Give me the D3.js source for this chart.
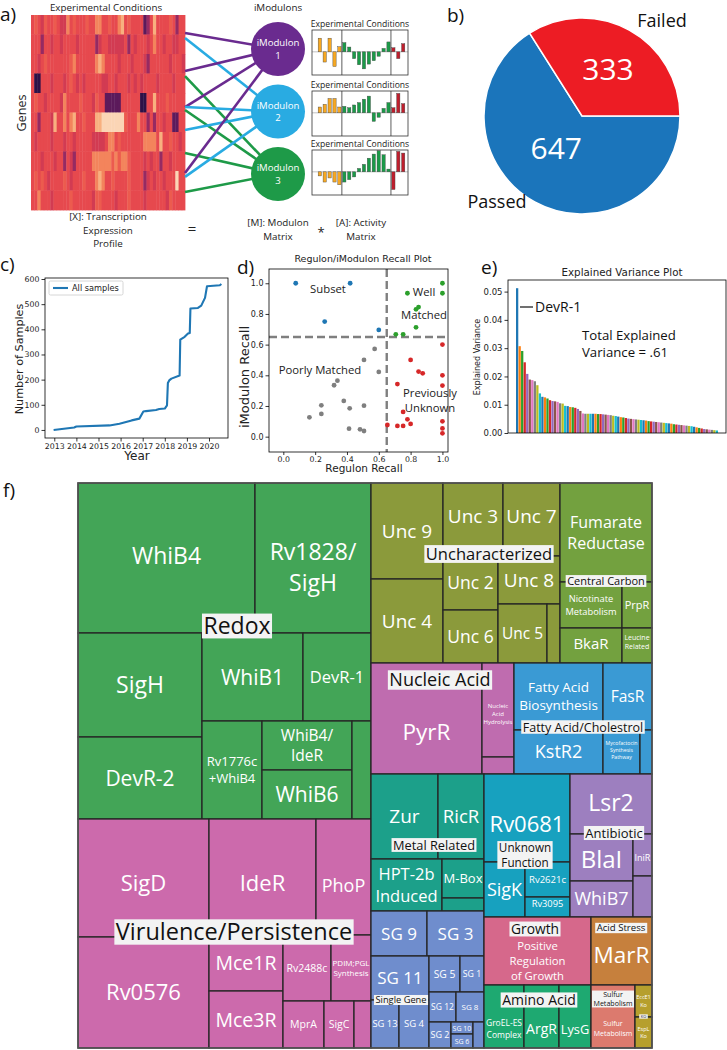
<!DOCTYPE html>
<html>
<head>
<meta charset="utf-8">
<script src="https://cdn.jsdelivr.net/npm/d3@7"></script>
<style>
  body { margin: 0; background: #fff; }
  svg { display: block; }
</style>
</head>
<body>
<svg id="fig" width="727" height="1050"></svg>
<script>
// ---------------- data ----------------

// a) expression profile: one string per gene block, one digit per condition (0 = low ... 8 = high)
var heatRows = [
  ["45435445","43364544","45446644","54467454","44412474","44454244"].join(""),
  ["44424434","43444434","44442344","33333424","34443464","43443344"].join(""),
  ["44345444","44445644","44446764","44434443","44432444","44434443"].join(""),
  ["40044434","44345434","34444433","44344434","34344443","44443444"].join(""),
  ["45443444","43644445","44435441","11114444","44004474","44544444"].join(""),
  ["44244437","44646744","54447788","88888544","46442424","43441144"].join(""),
  ["43444434","44344344","44433334","66454444","44466664","74454434"].join(""),
  ["44434443","44243244","44466666","65656654","44434344","24434444"].join(""),
  ["45454344","44543444","54446764","45444454","44423434","43444844"].join(""),
  ["44644434","44445444","44435544","44344454","44434444","44354444"].join("")
];
var moduleNames = ["1", "2", "3"];
// [gene position (in gene blocks), iModulon index]
var geneLinks = [[0.92,0],[1.18,1],[2.87,0],[3.13,2],[4.72,0],[4.72,1],[4.87,2],
                 [5.9,1],[7.08,2],[8.1,0],[8.3,1],[9.08,2]];
var conditionGroup = [0,0,0,0,0, 1,1,1,1,1,1,1,1,1,1, 2,2,2];
var activity = [
  [4, -3, 4, -4.3, 1.5,   2.7, 1.4, -2, -3.8, -5, -3.6, -2.6, -1.3, 1, 2.9,   1.2, -2, 2.4],
  [1.7, 2.5, 4.2, 4.2, 1.7,   1.9, 1.5, 2.3, 3, 4, 4.9, -2.5, -1.3, 1.3, 3,   1.5, 5.7, 2.7],
  [-1.2, -3, -1.8, -3, -3.8,   -3, -2.3, -1.5, 1, 2.2, 4, 5.2, 6.2, 5, 0.8,   -5.2, 6, 5.5]
];

// b) QC
var pieLabels = ["Passed", "Failed"];
var pieCounts = [647, 333];

// c) samples over time
var sampleYears = [2012.97, 2013.9, 2014.0, 2015.5, 2015.95, 2016.5, 2016.85, 2017.03, 2017.15, 2017.6,
                   2017.75, 2018.0, 2018.1, 2018.14, 2018.2, 2018.3, 2018.67, 2018.7, 2018.9, 2019.05,
                   2019.13, 2019.16, 2019.5, 2019.65, 2019.78, 2019.82, 2019.91, 2020.49, 2020.56];
var sampleCounts = [0, 10, 14, 18, 25, 38, 45, 73, 75, 79,
                    83, 85, 98, 187, 197, 204, 216, 359, 370, 383,
                    385, 483, 485, 494, 518, 525, 571, 575, 580];
var yearTicks = [2013, 2014, 2015, 2016, 2017, 2018, 2019, 2020];
var sampleTicks = [0, 100, 200, 300, 400, 500, 600];

// d) regulon / iModulon recall  [regulon recall, iModulon recall]
var subsetPts   = [[0.078,1.0],[0.42,1.0],[0.26,0.75],[0.60,0.696]];
var wellPts     = [[1.0,1.0],[0.78,0.935],[1.0,0.935],[0.834,0.83],[0.85,0.845],[0.834,0.713],[0.707,0.667],[0.753,0.667]];
var unknownPts  = [[1.0,0.6],[0.80,0.5],[0.85,0.424],[0.876,0.413],[1.0,0.4],[1.0,0.333],[0.717,0.343],[0.753,0.161],
                   [0.78,0.113],[0.717,0.07],[0.753,0.07],[0.80,0.083],[1.0,0.1],[1.0,0.054],[1.0,0.022],[0.654,0.076]];
var poorPts     = [[0.574,0.572],[0.507,0.5],[0.6,0.422],[0.34,0.365],[0.319,0.335],[0.38,0.233],[0.239,0.204],
                   [0.417,0.185],[0.507,0.202],[0.239,0.148],[0.164,0.126],[0.413,0.052],[0.482,0.048],[0.507,0.037]];
var recallTicks = [0, 0.2, 0.4, 0.6, 0.8, 1.0];
var recallCut = 0.65;

// e) explained variance per iModulon
var explainedVar = [0.0512,0.0307,0.029,0.025,0.0209,0.0189,0.0187,0.0183,0.0169,0.014,
  0.0128,0.0126,0.0122,0.0116,0.0113,0.0112,0.011,0.0105,0.0104,0.0096,
  0.0095,0.0092,0.0091,0.0089,0.0085,0.0078,0.0069,0.0068,0.0068,0.0068,
  0.0068,0.0068,0.0067,0.0067,0.0066,0.0065,0.0064,0.0063,0.0061,0.006,
  0.0058,0.0056,0.0055,0.0053,0.0051,0.005,0.0049,0.0048,0.0047,0.0046,
  0.0045,0.0044,0.0042,0.0041,0.004,0.0039,0.0038,0.0037,0.0036,0.0035,
  0.0034,0.0033,0.0031,0.003,0.0029,0.0028,0.0027,0.0026,0.0025,0.0024,
  0.0022,0.002,0.0018,0.0016,0.0014,0.0013,0.0012,0.0011,0.001,0.0009];
var varTicks = [0, 0.01, 0.02, 0.03, 0.04, 0.05];
var totalExplained = ".61";

// f) treemap: [id, parent, size, label]
var layoutNodes = [
  ["root", null, 0], ["L", "root", 0], ["R", "root", 0],
  ["RDX", "L", 0], ["VIR", "L", 0],
  ["R1", "R", 0], ["R2", "R", 0], ["R3", "R", 0],
  ["UNC", "R1", 0], ["CC", "R1", 0], ["NUC", "R2", 0], ["FAT", "R2", 0],
  ["R3L", "R3", 0], ["R3R", "R3", 0], ["MET", "R3L", 0], ["SG", "R3L", 0],
  ["r3r1", "R3R", 0], ["r3r2", "R3R", 0], ["r3r3", "R3R", 0],
  ["UNK", "r3r1", 0], ["ANT", "r3r1", 0], ["GRO", "r3r2", 0], ["ACD", "r3r2", 0],
  ["AMI", "r3r3", 0], ["SUL", "r3r3", 0], ["KO", "r3r3", 0]
];
var redoxTiles = [
  ["rdx1","RDX",0],["rdx2","RDX",0],
  ["WhiB4","rdx1",26550],["Rv1828/SigH","rdx1",17400,"Rv1828/\nSigH"],
  ["rdx2a","rdx2",0],["rdx2b","rdx2",0],
  ["SigH","rdx2a",12896],["DevR-2","rdx2a",10168],
  ["rdx2b1","rdx2b",0],["rdx2b2","rdx2b",0],
  ["WhiB1","rdx2b1",8888],["DevR-1","rdx2b1",5984],
  ["Rv1776c+WhiB4","rdx2b2",5880,"Rv1776c\n+WhiB4"],["rdx2b2m","rdx2b2",0],["rdx.x","rdx2b2",1862,""],
  ["WhiB4/IdeR","rdx2b2m",4410,"WhiB4/\nIdeR"],["WhiB6","rdx2b2m",4410]
];
var virulenceTiles = [
  ["vir1","VIR",0],["vir2","VIR",0],
  ["SigD","vir1",15458],["Rv0576","vir1",14541],
  ["vir2a","vir2",0],["vir2b","vir2",0],
  ["IdeR","vir2a",12412],["PhoP","vir2a",6380],
  ["vir2b1","vir2b",0],["vir2b2","vir2b",0],
  ["Mce1R","vir2b1",4144],["Mce3R","vir2b1",4218],
  ["vir2b2a","vir2b2",0],["vir2b2b","vir2b2",0],
  ["Rv2488c","vir2b2a",3168],["PDIM;PGL","vir2b2a",2640,"PDIM;PGL\nSynthesis"],
  ["MprA","vir2b2b",1927],["SigC","vir2b2b",1410],["vir.x","vir2b2b",799,""]
];
var uncTiles = [
  ["unc1","UNC",0],["unc2","UNC",0],
  ["Unc 9","unc1",6912],["Unc 4","unc1",6048],
  ["unc2a","unc2",0],["unc2b","unc2",0],
  ["Unc 3","unc2a",4380],["Unc 7","unc2a",4161],
  ["unc2b1","unc2b",0],["unc2b2","unc2b",0],
  ["Unc 2","unc2b1",2970],["Unc 6","unc2b1",2915],
  ["Unc 8","unc2b2",2976],["unc2b2b","unc2b2",0],
  ["Unc 5","unc2b2b",2891],["unc.x","unc2b2b",767,""]
];
var carbonTiles = [
  ["Fumarate Reductase","CC",9108,"Fumarate\nReductase"],["cc2","CC",0],
  ["cc2a","cc2",0],["cc2b","cc2",0],
  ["Nicotinate Metabolism","cc2a",2852,"Nicotinate\nMetabolism"],["PrpR","cc2a",1380],
  ["BkaR","cc2b",2170],["Leucine Related","cc2b",1050,"Leucine\nRelated"]
];
var lipidNucleicTiles = [
  ["PyrR","NUC",12321],["nuc2","NUC",0],
  ["Nucleic Acid Hydrolysis","nuc2",3008,"Nucleic\nAcid\nHydrolysis"],["nuc.x","nuc2",544,""],
  ["fat1","FAT",0],["fat2","FAT",0],
  ["Fatty Acid Biosynthesis","fat1",5963,"Fatty Acid\nBiosynthesis"],["FasR","fat1",3283],
  ["KstR2","fat2",3916],["Mycofactocin","fat2",1628,"Mycofactocin\nSynthesis\nPathway"],["fat.x","fat2",528,""]
];
var metalGeneTiles = [
  ["met1","MET",0],["met2","MET",0],
  ["Zur","met1",5695],["RicR","met1",3910],
  ["HPT-2b Induced","met2",3692,"HPT-2b\nInduced"],["met2b","met2",0],
  ["M-Box","met2b",1638],["met.x","met2b",546,""],
  ["sg1","SG",0],["sg2","SG",0],
  ["SG 9","sg1",2520],["SG 3","sg1",2565],
  ["sg2a","sg2",0],["sg2b","sg2",0],
  ["SG 11","sg2a",2552],["sg2a2","sg2a",0],
  ["SG 13","sg2a2",1344],["SG 4","sg2a2",1440],
  ["sg2b1","sg2b",0],["sg2b2","sg2b",0],["sg2b3","sg2b",0],
  ["SG 5","sg2b1",1116],["SG 1","sg2b1",864],
  ["SG 12","sg2b2",810],["SG 8","sg2b2",840],
  ["SG 2","sg2b3",572],["sg2b3m","sg2b3",0],["sg.x","sg2b3",286,""],
  ["SG 10","sg2b3m",264],["SG 6","sg2b3m",308]
];
var otherTiles = [
  ["Rv0681","UNK",7568],["unk2","UNK",0],
  ["SigK","unk2",2255],["unk2b","unk2",0],
  ["Rv2621c","unk2b",1575],["Rv3095","unk2b",900],
  ["Lsr2","ANT",4920],["ant2","ANT",0],
  ["ant2a","ant2",0],["ant2b","ant2",0],
  ["BlaI","ant2a",2961],["WhiB7","ant2a",2268],
  ["IniR","ant2b",798],["ant.x","ant2b",779,""],
  ["Positive Regulation of Growth","GRO",7276,"Positive\nRegulation\nof Growth"],
  ["MarR","ACD",4148],
  ["GroEL-ES Complex","AMI",2520,"GroEL-ES\nComplex"],["ArgR","AMI",2205],["LysG","AMI",2016],
  ["Sulfur Metabolism","SUL",2772,"Sulfur\nMetabolism"],
  ["EccE1 Ko","KO",544,"EccE1\nKo"],["EspL Ko","KO",527,"EspL\nKo"]
];
var categoryIds = ["RDX","VIR","UNC","CC","NUC","FAT","MET","SG","UNK","ANT","GRO","ACD","AMI","SUL","KO"];
var categoryNames = ["Redox","Virulence/Persistence","Uncharacterized","Central Carbon","Nucleic Acid",
  "Fatty Acid/Cholestrol","Metal Related","Single Gene","Unknown\nFunction","Antibiotic","Growth",
  "Acid Stress","Amino Acid","Sulfur\nMetabolism","KO"];

// ---------------- styles ----------------
var OS = "'Open Sans','Noto Sans',sans-serif";
var DJ = "'DejaVu Sans',sans-serif";
var heatColors = ["#2d1147","#5c1a5b","#962a62","#d23b52","#e6494e","#ec5b4e","#f3845c","#f8b07f","#fbd5b5"];
var moduleColors = ["#6a2b8f", "#29abe2", "#1e9a48"];
var conditionColors = ["#f6a823", "#1a9a48", "#be1e2d"];
var pieColors = ["#1b75bb", "#ed1c24"];
var recallColors = {subset: "#1f77b4", well: "#2ca02c", unknown: "#d62728", poor: "#7f7f7f"};
var categoryColor = {RDX:"#43a557", VIR:"#cc6aac", UNC:"#8b9a3b", CC:"#73a13f", NUC:"#bf6caf", FAT:"#3a9ad4",
  MET:"#1ca08a", SG:"#6f8dcd", UNK:"#17a1bf", ANT:"#9d7fbf", GRO:"#d6688b", ACD:"#c6803d", AMI:"#1ea971",
  SUL:"#dc7a6e", KO:"#b69f2d"};
// tiling direction of every parent: h = side by side, v = stacked
var split = {root:"h", L:"v", RDX:"v", rdx1:"h", rdx2:"h", rdx2a:"v", rdx2b:"v", rdx2b1:"h", rdx2b2:"h", rdx2b2m:"v",
  VIR:"h", vir1:"v", vir2:"v", vir2a:"h", vir2b:"h", vir2b1:"v", vir2b2:"v", vir2b2a:"h", vir2b2b:"h",
  R:"v", R1:"h", UNC:"h", unc1:"v", unc2:"v", unc2a:"h", unc2b:"h", unc2b1:"v", unc2b2:"v", unc2b2b:"h",
  CC:"v", cc2:"v", cc2a:"h", cc2b:"h", R2:"h", NUC:"h", nuc2:"v", FAT:"v", fat1:"h", fat2:"h",
  R3:"h", R3L:"v", MET:"v", met1:"h", met2:"h", met2b:"v",
  SG:"v", sg1:"h", sg2:"h", sg2a:"v", sg2a2:"h", sg2b:"v", sg2b1:"h", sg2b2:"h", sg2b3:"h", sg2b3m:"v",
  R3R:"v", r3r1:"h", UNK:"v", unk2:"h", unk2b:"v", ANT:"v", ant2:"h", ant2a:"v", ant2b:"v",
  r3r2:"h", GRO:"v", ACD:"v", r3r3:"h", AMI:"h", SUL:"v", KO:"v"};
var tileFont = {"WhiB4":23, "Rv1828/SigH":23, "SigH":23, "DevR-2":21, "WhiB1":21, "DevR-1":16.5, "Rv1776c+WhiB4":13,
  "WhiB4/IdeR":15.5, "WhiB6":21, "SigD":22, "IdeR":22, "PhoP":18, "Rv0576":22, "Mce1R":19.5, "Mce3R":19.5,
  "Rv2488c":10.5, "PDIM;PGL":8, "MprA":10.5, "SigC":10.5,
  "Unc 9":19, "Unc 4":19, "Unc 3":19, "Unc 7":19, "Unc 2":17.5, "Unc 6":17.5, "Unc 8":19, "Unc 5":15.5,
  "Fumarate Reductase":16, "Nicotinate Metabolism":9.3, "PrpR":11, "BkaR":15, "Leucine Related":7,
  "PyrR":22.5, "Nucleic Acid Hydrolysis":6, "Fatty Acid Biosynthesis":13.5, "FasR":15.5, "KstR2":18, "Mycofactocin":5.2,
  "Zur":19, "RicR":18.5, "HPT-2b Induced":16.5, "M-Box":13, "Rv0681":22, "SigK":18, "Rv2621c":9.5, "Rv3095":9.3,
  "Lsr2":23, "BlaI":24, "IniR":9, "WhiB7":18,
  "SG 9":17, "SG 3":17, "SG 11":17, "SG 13":9.4, "SG 4":9.5, "SG 5":10.3, "SG 1":8.7, "SG 12":8.5, "SG 8":8,
  "SG 2":9, "SG 10":7, "SG 6":7,
  "Positive Regulation of Growth":11.3, "MarR":22.5, "GroEL-ES Complex":8.5, "ArgR":14, "LysG":12.8,
  "Sulfur Metabolism":7, "EccE1 Ko":5.5, "EspL Ko":5.5};
var tileShift = {"WhiB4":-2, "Rv1828/SigH":9, "SigD":5, "IdeR":6, "PhoP":9, "PyrR":13, "Positive Regulation of Growth":10,
  "MarR":4, "Sulfur Metabolism":12, "GroEL-ES Complex":12.5, "ArgR":12.5, "LysG":12.5, "Rv0681":6,
  "Unc 3":-3, "Unc 7":-3, "Nucleic Acid Hydrolysis":4, "Mycofactocin":-2, "Leucine Related":-3.5,
  "BkaR":-2, "Rv3095":-3, "IniR":3, "BlaI":2, "Lsr2":-1};
// [dx, dy from group centre, font size]
var groupLabelStyle = {RDX:[12.5,-25,23], VIR:[9.5,-1.5,23.5], UNC:[23.5,-19,16.5], CC:[0,8,11], NUC:[-2.5,-38.5,18],
  FAT:[0,8.5,12.5], MET:[6.5,2.5,12.8], UNK:[-2,9.5,11.7], ANT:[3,-12.5,13], SG:[-26.5,20.5,9.3],
  GRO:[-2.5,-22,13.8], ACD:[-0.5,-23,9.6], AMI:[1.5,-16.5,14], SUL:[0,-17.5,7.1], KO:[0,0,4]};

// ---------------- drawing ----------------
var svg = d3.select("#fig");

function panelLabel(txt, x, y) {
  svg.append("text").attr("x", x).attr("y", y).attr("font-family", OS).attr("font-size", 19).attr("fill", "#111").text(txt);
}
function lines(parent, txt, cx, cy, fs, lh, fam) {
  var ls = txt.split("\n");
  var t = parent.append("text").attr("text-anchor", "middle").attr("font-size", fs).attr("font-family", fam || OS);
  ls.forEach(function(s, i) {
    t.append("tspan").attr("x", cx).attr("y", cy + (i - (ls.length - 1) / 2) * fs * lh + fs * 0.36).text(s);
  });
  return t;
}
function styleAxis(g, fs) {
  g.select(".domain").remove();
  g.attr("font-family", DJ).attr("font-size", fs);
  g.selectAll(".tick line").attr("stroke", "#000").attr("stroke-width", 0.8);
  g.selectAll(".tick text").attr("fill", "#222");
}

panelLabel("a)", 0, 21); panelLabel("b)", 447, 22); panelLabel("c)", 0, 271);
panelLabel("d)", 237, 274); panelLabel("e)", 481, 274); panelLabel("f)", 3, 497);

// ===== a) =====
var gA = svg.append("g");
var hx = d3.scaleBand().domain(d3.range(heatRows[0].length)).range([31, 185]);
var hy = d3.scaleBand().domain(d3.range(heatRows.length)).range([15, 210]);
heatRows.forEach(function(row, r) {
  gA.append("g").selectAll("rect").data(row.split("")).enter().append("rect")
    .attr("x", function(d, i) { return hx(i); }).attr("y", hy(r))
    .attr("width", hx.bandwidth() + 0.4).attr("height", hy.bandwidth() + 0.4)
    .attr("fill", function(d) { return heatColors[+d]; });
});
gA.append("text").attr("x", 106).attr("y", 11).attr("text-anchor", "middle").attr("font-family", OS)
  .attr("font-size", 9.8).attr("fill", "#222").text("Experimental Conditions");
gA.append("text").attr("transform", "translate(26,113) rotate(-90)").attr("text-anchor", "middle")
  .attr("font-family", OS).attr("font-size", 12.5).attr("fill", "#222").text("Genes");

var geneY = d3.scaleLinear().domain([0, 10]).range([15, 210]);
var modY = d3.scalePoint().domain(d3.range(moduleNames.length)).range([49, 174]);
gA.selectAll("line.link").data(geneLinks).enter().append("line").attr("class", "link")
  .attr("x1", 185).attr("y1", function(d) { return geneY(d[0]); })
  .attr("x2", 278).attr("y2", function(d) { return modY(d[1]); })
  .attr("stroke", function(d) { return moduleColors[d[1]]; }).attr("stroke-width", 2.6);
moduleNames.forEach(function(m, i) {
  gA.append("circle").attr("cx", 278).attr("cy", modY(i)).attr("r", 27).attr("fill", moduleColors[i]);
  lines(gA, "iModulon\n" + m, 278, modY(i), 9.6, 1.3).attr("fill", "#fff");
});
gA.append("text").attr("x", 278).attr("y", 11).attr("text-anchor", "middle").attr("font-family", OS)
  .attr("font-size", 9.8).attr("fill", "#222").text("iModulons");

var ax = d3.scaleBand().domain(d3.range(conditionGroup.length)).range([316.5, 406.5]).padding(0.34);
var boxTop = [30, 91, 150], boxH = 45;
var divA = (ax(4) + ax.bandwidth() + ax(5)) / 2, divB = (ax(14) + ax.bandwidth() + ax(15)) / 2;
activity.forEach(function(vals, k) {
  var ay = d3.scaleLinear().domain([-6.8, 6.4]).range([boxTop[k] + boxH, boxTop[k]]);
  var g = gA.append("g");
  g.append("text").attr("x", 360).attr("y", boxTop[k] - 3).attr("text-anchor", "middle")
    .attr("font-family", OS).attr("font-size", 8.6).attr("fill", "#222").text("Experimental Conditions");
  g.append("line").attr("x1", 312).attr("x2", 408).attr("y1", ay(0)).attr("y2", ay(0))
    .attr("stroke", "#999").attr("stroke-width", 0.6);
  g.selectAll("rect.bar").data(vals).enter().append("rect").attr("class", "bar")
    .attr("x", function(d, i) { return ax(i); }).attr("width", ax.bandwidth())
    .attr("y", function(d) { return ay(Math.max(0, d)); })
    .attr("height", function(d) { return Math.abs(ay(d) - ay(0)); })
    .attr("fill", function(d, i) { return conditionColors[conditionGroup[i]]; })
    .attr("stroke", "#444").attr("stroke-width", 0.4);
  [divA, divB].forEach(function(x) {
    g.append("line").attr("x1", x).attr("x2", x).attr("y1", boxTop[k]).attr("y2", boxTop[k] + boxH)
      .attr("stroke", "#333").attr("stroke-width", 0.8);
  });
  g.append("rect").attr("x", 312).attr("y", boxTop[k]).attr("width", 96).attr("height", boxH)
    .attr("fill", "none").attr("stroke", "#333").attr("stroke-width", 0.8);
});
lines(gA, "[X]: Transcription\nExpression\nProfile", 108, 230, 9.8, 1.35).attr("fill", "#222");
gA.append("text").attr("x", 192).attr("y", 234).attr("text-anchor", "middle").attr("font-family", OS)
  .attr("font-size", 15).attr("fill", "#222").text("=");
lines(gA, "[M]: Modulon\nMatrix", 278, 229.5, 9.8, 1.35).attr("fill", "#222");
gA.append("text").attr("x", 321).attr("y", 237).attr("text-anchor", "middle").attr("font-family", OS)
  .attr("font-size", 13).attr("fill", "#222").text("*");
lines(gA, "[A]: Activity\nMatrix", 361, 229.5, 9.8, 1.35).attr("fill", "#222");

// ===== b) =====
var gB = svg.append("g").attr("transform", "translate(582,116)");
var pie = d3.pie().sort(null).startAngle(Math.PI / 2).endAngle(Math.PI / 2 + 2 * Math.PI);
var slices = pie(pieCounts);
var arc = d3.arc().innerRadius(0).outerRadius(98);
gB.selectAll("path").data(slices).enter().append("path").attr("d", arc)
  .attr("fill", function(d, i) { return pieColors[i]; }).attr("stroke", "#fff").attr("stroke-width", 1.5);
var labelR = [86, 108];
slices.forEach(function(s, i) {
  var c = d3.arc().innerRadius(0).outerRadius(labelR[i]).centroid(s);
  gB.append("text").attr("x", c[0] - (i === 0 ? 5 : 0)).attr("y", c[1] + 11 - (i === 0 ? 6 : 0))
    .attr("text-anchor", "middle").attr("font-family", OS).attr("font-size", 30).attr("fill", "#fff").text(s.data);
});
gB.append("text").attr("x", 80).attr("y", -89).attr("text-anchor", "middle").attr("font-family", OS)
  .attr("font-size", 18).attr("fill", "#111").text(pieLabels[1]);
gB.append("text").attr("x", -85).attr("y", 92).attr("text-anchor", "middle").attr("font-family", OS)
  .attr("font-size", 18).attr("fill", "#111").text(pieLabels[0]);

// ===== c) =====
var gC = svg.append("g");
var cxs = d3.scaleLinear().domain([2012.58, 2020.86]).range([45, 228]);
var cys = d3.scaleLinear().domain([-32, 604]).range([438, 278]);
gC.append("g").attr("transform", "translate(0,438)")
  .call(d3.axisBottom(cxs).tickValues(yearTicks).tickFormat(d3.format("d")).tickSize(3.5).tickPadding(2))
  .call(styleAxis, 7.8);
gC.append("g").attr("transform", "translate(45,0)")
  .call(d3.axisLeft(cys).tickValues(sampleTicks).tickSize(3.5).tickPadding(2))
  .call(styleAxis, 7.8);
gC.append("path").datum(d3.zip(sampleYears, sampleCounts))
  .attr("d", d3.line().x(function(d) { return cxs(d[0]); }).y(function(d) { return cys(d[1]); }))
  .attr("fill", "none").attr("stroke", "#1f77b4").attr("stroke-width", 2.1).attr("stroke-linejoin", "round");
gC.append("rect").attr("x", 45).attr("y", 278).attr("width", 183).attr("height", 160)
  .attr("fill", "none").attr("stroke", "#000").attr("stroke-width", 0.8);
gC.append("rect").attr("x", 49).attr("y", 281).attr("width", 74).attr("height", 14).attr("rx", 1.5)
  .attr("fill", "#fff").attr("stroke", "#ccc").attr("stroke-width", 0.8);
gC.append("line").attr("x1", 53).attr("x2", 68).attr("y1", 288).attr("y2", 288)
  .attr("stroke", "#1f77b4").attr("stroke-width", 2.1);
gC.append("text").attr("x", 72).attr("y", 291).attr("font-family", DJ).attr("font-size", 8.2)
  .attr("fill", "#222").text("All samples");
gC.append("text").attr("x", 137).attr("y", 460).attr("text-anchor", "middle").attr("font-family", DJ)
  .attr("font-size", 12).attr("fill", "#222").text("Year");
gC.append("text").attr("transform", "translate(23,359) rotate(-90)").attr("text-anchor", "middle")
  .attr("font-family", DJ).attr("font-size", 11.2).attr("fill", "#222").text("Number of Samples");

// ===== d) =====
var gD = svg.append("g");
var dxs = d3.scaleLinear().domain([-0.09, 1.035]).range([269, 448]);
var dys = d3.scaleLinear().domain([-0.1, 1.093]).range([452, 269]);
gD.append("g").attr("transform", "translate(0,452)")
  .call(d3.axisBottom(dxs).tickValues(recallTicks).tickFormat(d3.format(".1f")).tickSize(3).tickPadding(1.5))
  .call(styleAxis, 7.8);
gD.append("g").attr("transform", "translate(269,0)")
  .call(d3.axisLeft(dys).tickValues(recallTicks).tickFormat(d3.format(".1f")).tickSize(3.5).tickPadding(2))
  .call(styleAxis, 8);
gD.append("line").attr("x1", 269).attr("x2", 448).attr("y1", dys(recallCut)).attr("y2", dys(recallCut))
  .attr("stroke", "#7f7f7f").attr("stroke-width", 2.4).attr("stroke-dasharray", "8,4");
gD.append("line").attr("x1", dxs(recallCut)).attr("x2", dxs(recallCut)).attr("y1", 269).attr("y2", 452)
  .attr("stroke", "#7f7f7f").attr("stroke-width", 2.4).attr("stroke-dasharray", "8,4");
[["subset", subsetPts], ["well", wellPts], ["unknown", unknownPts], ["poor", poorPts]].forEach(function(s) {
  gD.append("g").selectAll("circle").data(s[1]).enter().append("circle")
    .attr("cx", function(d) { return dxs(d[0]); }).attr("cy", function(d) { return dys(d[1]); })
    .attr("r", 2.4).attr("fill", recallColors[s[0]]);
});
gD.append("rect").attr("x", 269).attr("y", 269).attr("width", 179).attr("height", 183)
  .attr("fill", "none").attr("stroke", "#000").attr("stroke-width", 0.8);
gD.append("text").attr("x", 363).attr("y", 262).attr("text-anchor", "middle").attr("font-family", DJ)
  .attr("font-size", 9.5).attr("fill", "#222").text("Regulon/iModulon Recall Plot");
gD.append("text").attr("x", 364).attr("y", 472).attr("text-anchor", "middle").attr("font-family", DJ)
  .attr("font-size", 10.5).attr("fill", "#222").text("Regulon Recall");
gD.append("text").attr("transform", "translate(249,377) rotate(-90)").attr("text-anchor", "middle")
  .attr("font-family", DJ).attr("font-size", 13).attr("fill", "#222").text("iModulon Recall");
[["Subset", 328, 293], ["Well", 424, 296], ["Matched", 424, 319], ["Poorly Matched", 320, 374],
 ["Previously", 430, 397], ["Unknown", 430, 412]].forEach(function(t) {
  gD.append("text").attr("x", t[1]).attr("y", t[2]).attr("text-anchor", "middle").attr("font-family", OS)
    .attr("font-size", 11.3).attr("fill", "#222").text(t[0]);
});

// ===== e) =====
var gE = svg.append("g");
var exs = d3.scaleBand().domain(d3.range(explainedVar.length)).range([516, 718]).paddingInner(0.1);
var eys = d3.scaleLinear().domain([0, 0.0541]).range([433, 280]);
gE.append("g").selectAll("rect").data(explainedVar).enter().append("rect")
  .attr("x", function(d, i) { return exs(i); }).attr("width", exs.bandwidth())
  .attr("y", function(d) { return eys(d); }).attr("height", function(d) { return eys(0) - eys(d); })
  .attr("fill", function(d, i) { return d3.schemeCategory10[i % 10]; });
gE.append("g").attr("transform", "translate(508,0)")
  .call(d3.axisLeft(eys).tickValues(varTicks).tickFormat(d3.format(".2f")).tickSize(3.5).tickPadding(2))
  .call(styleAxis, 8.5);
gE.append("rect").attr("x", 508).attr("y", 280).attr("width", 218).attr("height", 153)
  .attr("fill", "none").attr("stroke", "#000").attr("stroke-width", 0.8);
gE.append("text").attr("x", 622).attr("y", 276).attr("text-anchor", "middle").attr("font-family", DJ)
  .attr("font-size", 10.3).attr("fill", "#222").text("Explained Variance Plot");
gE.append("text").attr("transform", "translate(480,357) rotate(-90)").attr("text-anchor", "middle")
  .attr("font-family", DJ).attr("font-size", 8).attr("fill", "#222").text("Explained Variance");
gE.append("line").attr("x1", 520).attr("x2", 533).attr("y1", 307).attr("y2", 307).attr("stroke", "#111").attr("stroke-width", 1.2);
gE.append("text").attr("x", 535).attr("y", 312).attr("font-family", OS).attr("font-size", 14).attr("fill", "#111").text("DevR-1");
gE.append("text").attr("x", 582).attr("y", 340).attr("font-family", OS).attr("font-size", 13.2).attr("fill", "#111").text("Total Explained");
gE.append("text").attr("x", 582).attr("y", 357).attr("font-family", OS).attr("font-size", 13.2).attr("fill", "#111")
  .text("Variance = " + totalExplained);

// ===== f) treemap =====
var tiles = [].concat(layoutNodes, redoxTiles, virulenceTiles, uncTiles, carbonTiles, lipidNucleicTiles, metalGeneTiles, otherTiles);
var root = d3.stratify().id(function(d) { return d[0]; }).parentId(function(d) { return d[1]; })(tiles)
  .sum(function(d) { return d[2]; });
d3.treemap().size([574, 565]).round(false)
  .tile(function(node, x0, y0, x1, y1) {
    (split[node.id] === "v" ? d3.treemapSlice : d3.treemapDice)(node, x0, y0, x1, y1);
  })(root);

var gF = svg.append("g").attr("transform", "translate(78,483)");
function categoryOf(n) {
  var a = n.ancestors().find(function(p) { return categoryIds.indexOf(p.id) >= 0; });
  return a ? a.id : null;
}
var leaves = root.leaves();
gF.selectAll("rect.tile").data(leaves).enter().append("rect").attr("class", "tile")
  .attr("x", function(d) { return d.x0; }).attr("y", function(d) { return d.y0; })
  .attr("width", function(d) { return d.x1 - d.x0; }).attr("height", function(d) { return d.y1 - d.y0; })
  .attr("fill", function(d) { return categoryColor[categoryOf(d)]; })
  .attr("stroke", "#262626").attr("stroke-width", 1.3);
leaves.forEach(function(d) {
  var lab = d.data[3] === undefined ? d.id : d.data[3];
  if (!lab) return;
  var fs = tileFont[d.id] || 10;
  lines(gF, lab, (d.x0 + d.x1) / 2, (d.y0 + d.y1) / 2 + (tileShift[d.id] || 0), fs, 1.33).attr("fill", "#fff");
});
gF.append("rect").attr("x", 0).attr("y", 0).attr("width", 574).attr("height", 565)
  .attr("fill", "none").attr("stroke", "#555").attr("stroke-width", 1.5);
categoryIds.forEach(function(cid, k) {
  var n = root.descendants().find(function(p) { return p.id === cid; });
  var st = groupLabelStyle[cid];
  var cx = (n.x0 + n.x1) / 2 + st[0], cy = (n.y0 + n.y1) / 2 + st[1], fs = st[2];
  var g = gF.append("g");
  var t = lines(g, categoryNames[k], cx, cy, fs, 1.3).attr("fill", "#111");
  var bb = t.node().getBBox();
  var nl = categoryNames[k].split("\n").length;
  var h = ((nl - 1) * 1.3 + 1.08) * fs;
  g.insert("rect", "text").attr("x", bb.x - 1.5).attr("width", bb.width + 3)
    .attr("y", cy - h / 2).attr("height", h).attr("fill", "#f3f3f3");
});
</script>
</body>
</html>
